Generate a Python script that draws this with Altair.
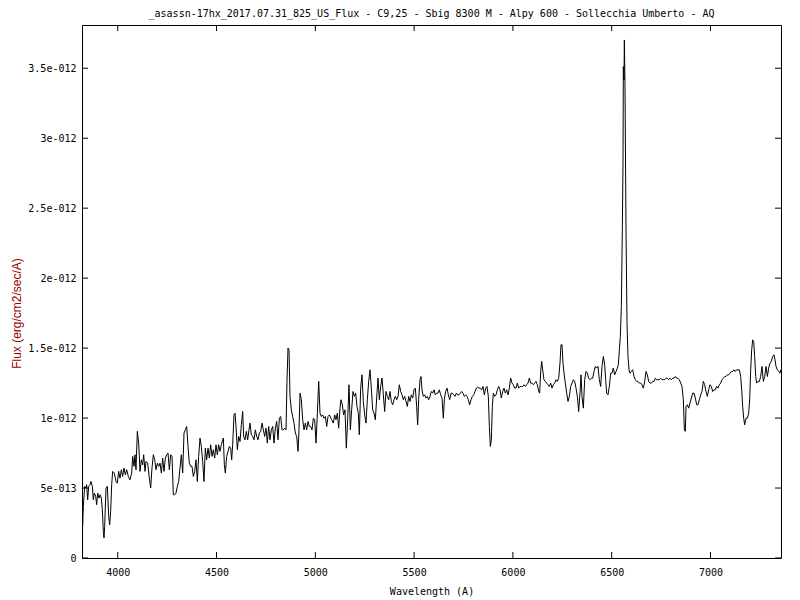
import altair as alt
import pandas as pd

TITLE = "_asassn-17hx_2017.07.31_825_US_Flux - C9,25 - Sbig 8300 M - Alpy 600 - Sollecchia Umberto - AQ"
X_TITLE = "Wavelength (A)"
Y_TITLE = "Flux (erg/cm2/sec/A)"

X_TICKS = [4000, 4500, 5000, 5500, 6000, 6500, 7000]
Y_TICKS_E12 = [0, 0.5, 1.0, 1.5, 2.0, 2.5, 3.0, 3.5]
Y_TICK_LABELS = ["0", "5e-013", "1e-012", "1.5e-012", "2e-012", "2.5e-012", "3e-012", "3.5e-012"]

X_DOMAIN = [3819, 7357]
Y_DOMAIN_E12 = [0, 3.809]

WAVELENGTH = [
    3822.4, 3825.8, 3832.5, 3839.3, 3842.6, 3847.7, 3852.8, 3859.5, 3864.6, 3871.3,
    3876.4, 3881.4, 3888.2, 3893.3, 3898.3, 3905.1, 3910.1, 3916.9, 3921.9, 3927.0,
    3930.4, 3933.8, 3940.5, 3947.3, 3954.0, 3959.1, 3964.1, 3969.2, 3974.2, 3982.7,
    3991.1, 3997.9, 4004.6, 4011.4, 4018.1, 4024.9, 4031.6, 4038.4, 4045.1, 4053.5,
    4062.0, 4070.4, 4075.5, 4082.2, 4087.3, 4092.3, 4099.1, 4105.9, 4112.6, 4119.3,
    4126.1, 4131.2, 4137.9, 4143.0, 4151.4, 4159.8, 4166.6, 4173.3, 4180.1, 4186.8,
    4193.6, 4200.3, 4207.1, 4213.8, 4220.6, 4227.3, 4234.1, 4240.8, 4247.6, 4254.3,
    4261.1, 4267.8, 4274.6, 4281.3, 4288.1, 4294.8, 4301.6, 4308.3, 4315.1, 4321.8,
    4328.6, 4335.3, 4342.1, 4348.8, 4355.6, 4362.3, 4369.1, 4375.8, 4382.5, 4389.3,
    4396.0, 4402.8, 4409.5, 4416.3, 4423.0, 4429.8, 4436.5, 4443.3, 4450.0, 4456.8,
    4463.5, 4470.3, 4477.0, 4483.8, 4490.5, 4497.3, 4504.0, 4510.8, 4517.5, 4524.3,
    4531.0, 4534.4, 4539.5, 4544.5, 4551.3, 4558.0, 4564.8, 4571.5, 4576.6, 4581.6,
    4588.4, 4593.5, 4598.5, 4605.3, 4612.0, 4618.8, 4625.5, 4632.3, 4637.3, 4644.1,
    4650.8, 4657.6, 4664.3, 4669.4, 4676.1, 4682.9, 4689.6, 4696.4, 4703.1, 4709.9,
    4716.6, 4723.4, 4730.1, 4736.9, 4743.6, 4750.4, 4757.1, 4763.9, 4770.6, 4777.4,
    4784.1, 4790.9, 4797.6, 4804.4, 4811.1, 4817.9, 4824.6, 4831.4, 4838.1, 4844.9,
    4851.6, 4856.7, 4861.7, 4866.8, 4871.8, 4878.6, 4885.3, 4892.1, 4898.8, 4905.6,
    4912.3, 4917.4, 4922.5, 4929.2, 4936.0, 4942.7, 4949.5, 4956.2, 4963.0, 4969.7,
    4976.5, 4983.2, 4990.0, 4996.7, 5003.5, 5010.2, 5017.0, 5023.7, 5030.5, 5037.2,
    5044.0, 5050.7, 5057.5, 5064.2, 5071.0,
    5082.7, 5091.1, 5097.9, 5104.6, 5111.4, 5118.1, 5124.9, 5129.9, 5136.7, 5143.4,
    5150.2, 5156.9, 5163.7, 5170.4, 5177.2, 5183.9, 5190.7, 5197.4, 5204.2, 5210.9,
    5217.7, 5222.7, 5229.5, 5236.2, 5243.0, 5249.7, 5256.5, 5263.2, 5270.0, 5276.7,
    5283.5, 5290.2, 5297.0, 5303.7, 5310.5, 5317.2, 5324.0, 5330.7, 5337.5, 5344.2,
    5351.0, 5357.7, 5364.5, 5371.2, 5378.0, 5384.7, 5391.5, 5398.2, 5405.0, 5411.7,
    5418.5, 5425.2, 5432.0, 5438.7, 5445.4, 5452.2, 5458.9, 5465.7, 5472.4, 5479.2,
    5485.9, 5492.7, 5499.4, 5506.2, 5512.9, 5518.0, 5523.0, 5529.8, 5534.9, 5539.9,
    5546.7, 5553.4, 5560.2, 5566.9, 5573.7, 5580.4, 5587.2, 5593.9, 5600.7, 5607.4,
    5614.2, 5620.9, 5627.7, 5634.4, 5641.2, 5647.9, 5653.0, 5659.7, 5666.5, 5673.2,
    5680.0, 5686.7, 5693.5, 5700.2, 5707.0, 5713.7, 5720.5, 5727.2, 5734.0, 5740.7,
    5747.5, 5754.2, 5761.0, 5767.7, 5774.5, 5781.2, 5788.0, 5794.7, 5801.5, 5808.2,
    5815.0, 5821.7, 5828.5, 5835.2, 5842.0, 5848.7, 5855.4, 5862.2, 5868.9, 5875.7,
    5880.8, 5885.8, 5890.9, 5895.9, 5901.0, 5907.7, 5914.5, 5921.2, 5928.0, 5934.7,
    5941.5, 5948.2, 5955.0, 5961.7, 5968.5, 5975.2, 5982.0, 5988.7, 5995.5, 6002.2,
    6009.0, 6015.7, 6022.5, 6029.2, 6036.0, 6042.7, 6049.5, 6056.2, 6063.0, 6069.7,
    6076.5, 6083.2, 6090.0, 6096.7, 6103.5, 6110.2, 6117.0, 6123.7, 6130.5, 6135.5,
    6140.6, 6145.6, 6150.7, 6157.4, 6164.2, 6170.9, 6177.7, 6184.4,
    6191.2, 6197.9, 6204.7, 6211.4, 6218.2, 6224.9, 6231.7, 6238.4, 6243.5, 6248.6,
    6253.6, 6258.7, 6265.4, 6272.2, 6278.9, 6285.7, 6292.4, 6299.2, 6305.9, 6312.7,
    6319.4, 6326.2, 6332.9, 6339.7, 6344.7, 6349.8, 6356.5, 6363.3, 6370.0, 6376.8,
    6383.5, 6390.3, 6397.0, 6403.8, 6410.5, 6417.3, 6424.0, 6430.8, 6437.5, 6444.3,
    6451.0, 6457.8, 6464.5, 6469.6, 6474.6, 6481.4, 6488.1, 6494.9, 6501.6, 6508.4,
    6515.1, 6521.9, 6528.6, 6533.7, 6538.8, 6543.8, 6548.9, 6553.9, 6557.3, 6559.0,
    6562.4, 6564.1, 6567.4, 6572.5, 6577.6, 6582.6, 6587.7, 6592.7, 6599.5, 6606.2,
    6613.0, 6619.7, 6626.5, 6633.2, 6640.0, 6646.7, 6653.5, 6660.2, 6667.0, 6673.7,
    6680.5, 6687.2, 6694.0, 6700.7, 6707.5, 6714.2, 6721.0, 6727.7, 6734.5, 6741.2,
    6748.0, 6754.7, 6761.5, 6768.2, 6775.0, 6781.7, 6788.5, 6795.2, 6802.0, 6808.7,
    6815.5, 6822.2, 6829.0, 6835.7, 6842.5, 6849.2, 6856.0, 6862.7, 6867.8, 6872.8,
    6876.2, 6882.9, 6889.7, 6896.4, 6903.2, 6909.9, 6916.7, 6923.4, 6930.2, 6936.9,
    6943.7, 6950.4, 6957.2, 6963.9, 6970.7, 6977.4, 6984.2, 6990.9, 6997.7, 7004.4,
    7011.2, 7017.9, 7024.7, 7031.4, 7038.2, 7044.9, 7051.7, 7058.4, 7065.2, 7071.9,
    7078.7, 7085.4, 7092.2, 7098.9, 7105.7, 7112.4, 7119.2, 7125.9, 7132.7, 7139.4,
    7146.2, 7152.9, 7158.0, 7163.0, 7168.1, 7173.2, 7179.9, 7186.7, 7193.4, 7198.5,
    7203.5, 7208.6, 7213.6, 7218.7, 7223.8, 7228.8, 7233.9, 7240.6, 7247.4, 7254.1,
    7260.9, 7267.6, 7274.4, 7281.1, 7287.9, 7294.6, 7301.4, 7308.1, 7314.9, 7321.6,
    7326.7, 7331.8, 7338.5, 7345.3, 7352.0, 7355.4,
]

FLUX_E12 = [
    0.226, 0.369, 0.512, 0.500, 0.524, 0.416, 0.512, 0.524, 0.547, 0.512,
    0.416, 0.464, 0.440, 0.381, 0.464, 0.428, 0.452, 0.428, 0.345, 0.190,
    0.143, 0.226, 0.500, 0.512, 0.297, 0.238, 0.333, 0.524, 0.619, 0.607,
    0.547, 0.535, 0.619, 0.571, 0.631, 0.583, 0.643, 0.595, 0.631, 0.583,
    0.559, 0.607, 0.726, 0.655, 0.738, 0.631, 0.905, 0.821, 0.619, 0.702,
    0.666, 0.738, 0.619, 0.690, 0.678, 0.571, 0.500, 0.643, 0.738, 0.702,
    0.631, 0.678, 0.655, 0.678, 0.607, 0.714, 0.619, 0.714, 0.738, 0.750,
    0.631, 0.738, 0.726, 0.452, 0.452, 0.464, 0.512, 0.547, 0.643, 0.738,
    0.607, 0.893, 0.916, 0.940, 0.797, 0.678, 0.655, 0.655, 0.583, 0.619,
    0.702, 0.547, 0.726, 0.857, 0.797, 0.690, 0.547, 0.785, 0.702, 0.785,
    0.714, 0.809, 0.726, 0.774, 0.714, 0.809, 0.738, 0.809, 0.762, 0.809,
    0.845, 0.857, 0.666, 0.607, 0.726, 0.762, 0.797, 0.785, 0.702, 0.809,
    1.023, 1.035, 0.940, 0.774, 0.869, 0.833, 0.952, 1.047, 0.869, 0.845,
    0.905, 0.845, 0.916, 0.964, 0.881, 0.869, 0.845, 0.916, 0.869, 0.845,
    0.893, 0.905, 0.964, 0.916, 0.869, 0.928, 0.821, 0.940, 0.845, 0.916,
    0.940, 0.821, 0.928, 0.976, 0.845, 0.999, 1.011, 0.916, 0.916, 0.928,
    0.916, 1.274, 1.500, 1.488, 1.155, 1.059, 1.011, 0.964, 0.893, 0.869,
    0.762, 0.916, 1.178, 1.131, 0.988, 0.916, 0.964, 0.916, 0.976, 0.940,
    0.940, 0.916, 0.999, 0.988, 0.821, 1.035, 1.262, 1.035, 1.011, 1.023,
    0.999, 1.011, 0.940, 1.011, 1.023,
    0.988, 0.964, 1.023, 0.988, 1.035, 0.928, 1.071, 1.131, 1.095, 1.023,
    1.059, 0.785, 0.988, 1.238, 0.916, 1.059, 1.190, 1.155, 1.178, 1.083,
    1.035, 0.881, 1.214, 1.309, 1.119, 1.023, 0.964, 1.131, 1.262, 1.345,
    1.214, 1.059, 1.035, 0.988, 1.143, 1.286, 1.131, 1.226, 1.286, 1.166,
    1.047, 1.190, 1.155, 1.131, 1.190, 1.119, 1.095, 1.131, 1.155, 1.131,
    1.155, 1.238, 1.190, 1.166, 1.131, 1.155, 1.119, 1.083, 1.155, 1.119,
    1.166, 1.143, 1.202, 1.214, 1.083, 0.952, 1.131, 1.274, 1.297, 1.202,
    1.155, 1.166, 1.143, 1.155, 1.131, 1.155, 1.190, 1.178, 1.202, 1.166,
    1.178, 1.178, 1.202, 1.166, 1.143, 0.999, 1.131, 1.190, 1.214, 1.166,
    1.131, 1.178, 1.178, 1.166, 1.155, 1.178, 1.166, 1.166, 1.178, 1.190,
    1.178, 1.155, 1.166, 1.155, 1.131, 1.095, 1.131, 1.155, 1.166, 1.190,
    1.214, 1.221, 1.214, 1.214, 1.202, 1.226, 1.166, 1.214, 1.226, 1.155,
    0.940, 0.797, 0.845, 1.083, 1.178, 1.155, 1.166, 1.202, 1.226, 1.202,
    1.143, 1.190, 1.214, 1.178, 1.202, 1.166, 1.214, 1.286, 1.250, 1.238,
    1.214, 1.214, 1.250, 1.214, 1.226, 1.226, 1.226, 1.238, 1.226, 1.238,
    1.250, 1.286, 1.250, 1.250, 1.238, 1.250, 1.262, 1.238, 1.190, 1.178,
    1.333, 1.405, 1.345, 1.274, 1.262, 1.250, 1.238, 1.226,
    1.250, 1.214, 1.238, 1.250, 1.274, 1.262, 1.285, 1.393, 1.524, 1.524,
    1.393, 1.321, 1.250, 1.178, 1.119, 1.155, 1.226, 1.250, 1.274, 1.262,
    1.214, 1.155, 1.047, 1.178, 1.309, 1.155, 1.071, 1.274, 1.333, 1.321,
    1.285, 1.274, 1.285, 1.285, 1.333, 1.369, 1.357, 1.369, 1.274, 1.226,
    1.369, 1.440, 1.381, 1.274, 1.178, 1.166, 1.226, 1.321, 1.321, 1.357,
    1.309, 1.333, 1.357, 1.381, 1.488, 1.583, 1.797, 2.345, 2.821, 3.512,
    3.416, 3.702, 3.381, 2.345, 1.678, 1.440, 1.345, 1.321, 1.333, 1.345,
    1.297, 1.274, 1.262, 1.262, 1.250, 1.250, 1.238, 1.214, 1.262, 1.333,
    1.309, 1.262, 1.250, 1.250, 1.262, 1.262, 1.285, 1.274, 1.274, 1.274,
    1.285, 1.274, 1.274, 1.274, 1.285, 1.285, 1.274, 1.285, 1.274, 1.285,
    1.285, 1.297, 1.285, 1.285, 1.274, 1.250, 1.226, 1.131, 0.916, 0.905,
    1.083, 1.095, 1.071, 1.107, 1.143, 1.178, 1.178, 1.143, 1.095, 1.095,
    1.131, 1.166, 1.190, 1.262, 1.238, 1.190, 1.155, 1.202, 1.238, 1.226,
    1.190, 1.202, 1.202, 1.226, 1.214, 1.238, 1.250, 1.274, 1.285, 1.297,
    1.297, 1.309, 1.309, 1.321, 1.333, 1.333, 1.345, 1.333, 1.345, 1.345,
    1.345, 1.297, 1.202, 1.083, 0.999, 0.952, 0.999, 0.999, 1.035, 1.131,
    1.345, 1.488, 1.559, 1.547, 1.440, 1.297, 1.250, 1.262, 1.262, 1.297,
    1.369, 1.262, 1.297, 1.369, 1.297, 1.357, 1.393, 1.405, 1.440, 1.452,
    1.416, 1.369, 1.345, 1.333, 1.321, 1.345,
]

E12 = 1e-12
spectrum = pd.DataFrame({
    "wavelength": WAVELENGTH,
    "flux": [f * E12 for f in FLUX_E12],
})
xticks = pd.DataFrame({"wavelength": X_TICKS})
yticks = pd.DataFrame({"flux": [v * E12 for v in Y_TICKS_E12]})

# label expression built from the tick value / label lists
expr = "''"
for v, lab in reversed(list(zip(Y_TICKS_E12, Y_TICK_LABELS))):
    expr = f"abs(datum.value - {v * E12!r}) < 1e-16 ? '{lab}' : ({expr})"

W, H = 699, 533
MONO = "DejaVu Sans Mono"

xscale = alt.Scale(domain=X_DOMAIN, nice=False, zero=False)
yscale = alt.Scale(domain=[d * E12 for d in Y_DOMAIN_E12], nice=False, zero=False)

x_axis = alt.Axis(
    title=X_TITLE, values=X_TICKS, format="d", ticks=False, tickSize=0,
    domain=False, grid=False, labelPadding=9, labelFont=MONO, labelFontSize=10,
    labelColor="black", titleFont=MONO, titleFontSize=10, titleFontWeight="normal",
    titleColor="black", titleBaseline="middle", titleY=33,
)
y_axis = alt.Axis(
    title=Y_TITLE, values=[v * E12 for v in Y_TICKS_E12], labelExpr=expr,
    ticks=False, tickSize=0, domain=False, grid=False, labelPadding=6,
    labelFont=MONO, labelFontSize=10, labelColor="black",
    titleFont="Liberation Sans", titleFontSize=12, titleFontWeight="normal",
    titleColor="#990000", titleBaseline="middle", titleAlign="center",
    titleX=-66, titleY=288,
)

line = alt.Chart(spectrum).mark_line(color="black", strokeWidth=1, clip=True).encode(
    x=alt.X("wavelength:Q", scale=xscale, axis=x_axis, title=X_TITLE),
    y=alt.Y("flux:Q", scale=yscale, axis=y_axis, title=Y_TITLE),
)

def xtick_layer(y0, y1):
    return alt.Chart(xticks).mark_rule(color="black", strokeWidth=1).encode(
        x=alt.X("wavelength:Q", scale=xscale, axis=x_axis, title=X_TITLE),
        y=alt.value(y0), y2=alt.value(y1),
    )

def ytick_layer(x0, x1):
    return alt.Chart(yticks).mark_rule(color="black", strokeWidth=1).encode(
        y=alt.Y("flux:Q", scale=yscale, axis=y_axis, title=Y_TITLE),
        x=alt.value(x0), x2=alt.value(x1),
    )

chart = alt.layer(
    line,
    xtick_layer(H, H - 6),
    xtick_layer(0, 6),
    ytick_layer(0, 6),
    ytick_layer(W, W - 6),
).properties(
    width=W,
    height=H,
    title=alt.TitleParams(
        TITLE, font=MONO, fontSize=10, fontWeight="normal", color="black",
        anchor="middle", offset=6,
    ),
    autosize=alt.AutoSizeParams(type="none"),
    padding={"left": 74, "top": 17, "right": 11, "bottom": 41},
    background="white",
).configure_view(stroke="black", strokeWidth=1)

chart.save("out.html", embed_options={"renderer": "svg", "actions": False})
